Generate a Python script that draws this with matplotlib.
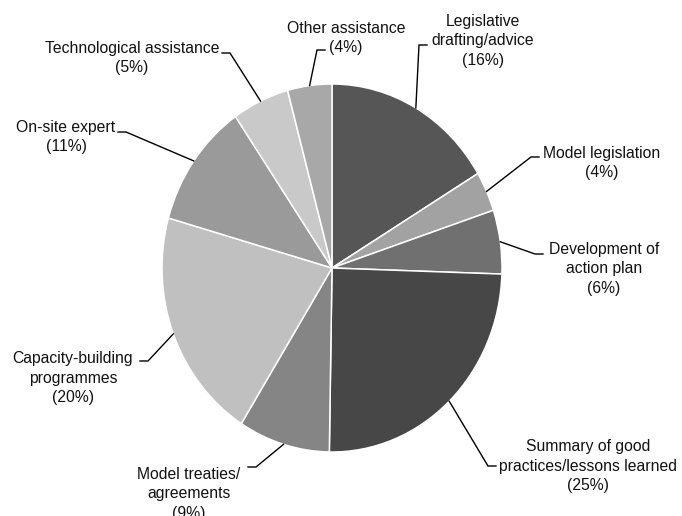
import numpy as np
import matplotlib
matplotlib.use("Agg")
import matplotlib.pyplot as plt

plt.rcParams['font.family'] = ['Liberation Sans', 'DejaVu Sans']

# share of requests by type of assistance, clockwise from 12 o'clock
categories = ['Legislative\ndrafting/advice', 'Model legislation', 'Development of\naction plan',
              'Summary of good\npractices/lessons learned', 'Model treaties/\nagreements',
              'Capacity-building\nprogrammes', 'On-site expert', 'Technological assistance',
              'Other assistance']
shares = [16.4, 3.5, 5.6, 24.7, 8.7, 20.4, 11.0, 5.4, 4.2]
colors = ['#565656', '#a2a2a2', '#707070', '#474747', '#858585',
          '#c0c0c0', '#9a9a9a', '#c9c9c9', '#a8a8a8']

# label layout in pixels: text centre, then end of the leader's horizontal stub
label_xy = [(483, 41), (602, 163), (604, 269), (588, 466), (189, 494),
            (73, 378), (66, 137), (132, 58), (346, 38)]
stub_xy = [(427, 45), (539, 157), (543, 254), (496, 466), (248, 467),
           (140, 361), (118, 132), (222, 53), (325, 50)]

W, H = 682, 516
cx, cy, rx, ry = 332, 268, 170, 184


def px(x, y):
    # pixel position -> pie data units (pie is a unit circle)
    return (x - cx) / rx, (cy - y) / ry


fig = plt.figure(figsize=(W / 100, H / 100), dpi=100)
ax = fig.add_axes([0, 0, 1, 1])

wedges, _ = ax.pie(shares, colors=colors, startangle=90, counterclock=False,
                   wedgeprops=dict(edgecolor='white', linewidth=1.1))
ax.set_aspect('auto')
ax.set_xlim(px(0, 0)[0], px(W, 0)[0])
ax.set_ylim(px(0, H)[1], px(0, 0)[1])
ax.axis('off')

for w, name, val, (tx, ty), (sx, sy) in zip(wedges, categories, shares, label_xy, stub_xy):
    mid = np.deg2rad((w.theta1 + w.theta2) / 2)
    ex, ey = np.cos(mid), np.sin(mid)
    x0, y0 = px(sx, sy)
    # bend sits a few pixels further from the text than the stub end
    side = 1 if sx > tx else -1
    bx, by = px(sx + side * 8, sy)
    ax.plot([ex, bx, x0], [ey, by, y0], color='black', lw=1.0, solid_joinstyle='miter')
    lx, ly = px(tx, ty)
    ax.text(lx, ly, f'{name}\n({val:.0f}%)', ha='center', va='center',
            fontsize=11.3, color='#111111', linespacing=1.38)

fig.savefig('out.png', dpi=100)
